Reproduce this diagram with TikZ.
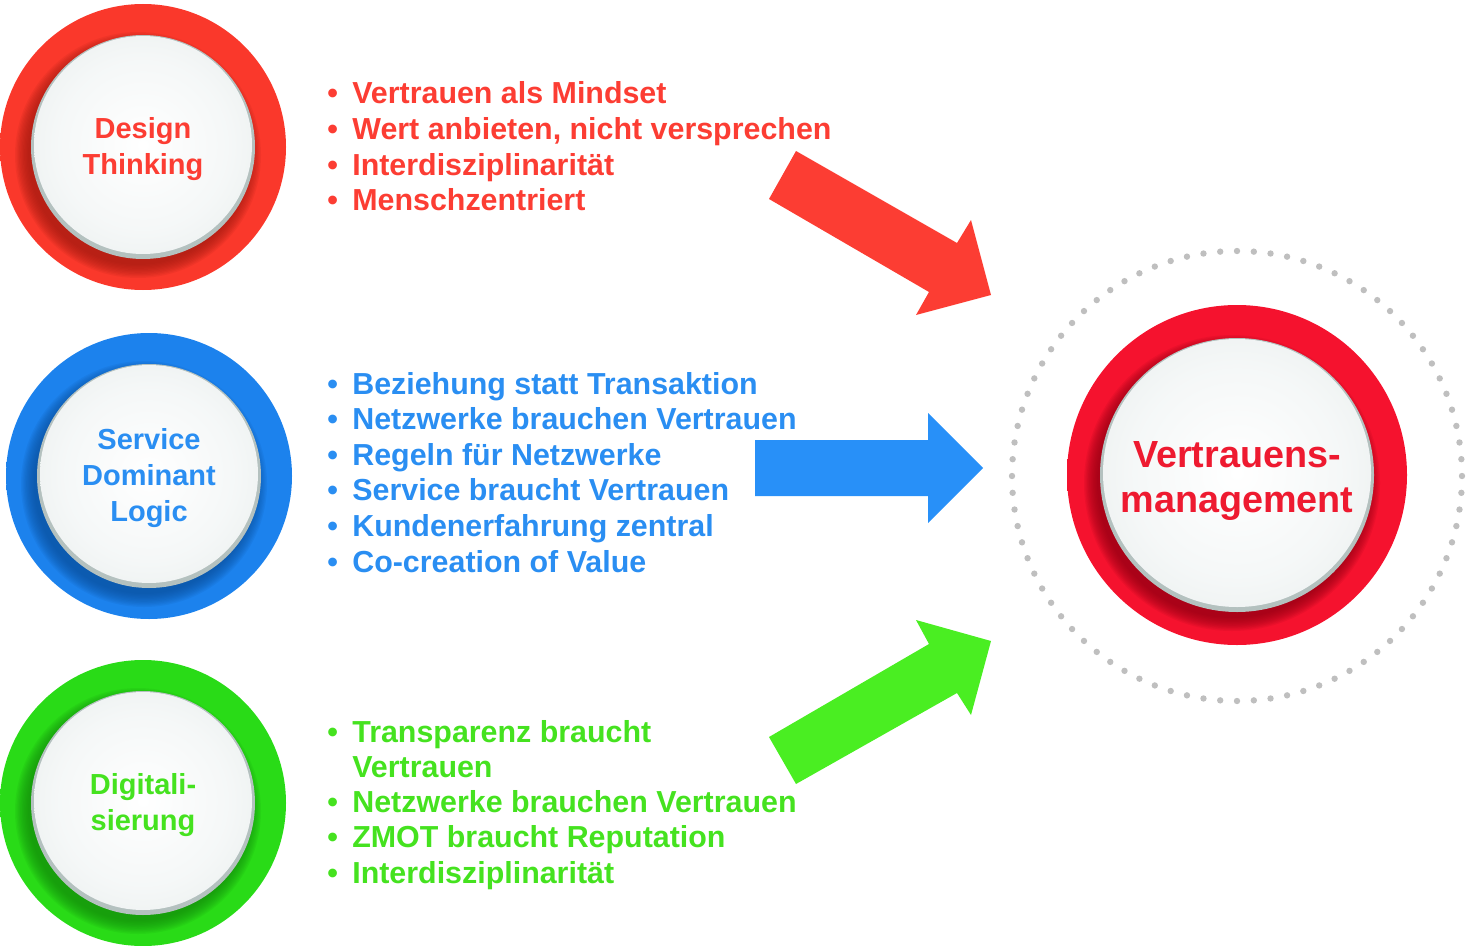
\documentclass[tikz,border=0pt]{standalone}
\usepackage{fontspec}
\setmainfont{Liberation Sans}
\usetikzlibrary{calc}

% colours
\definecolor{redtext}{HTML}{FC3D33}
\definecolor{bluetext}{HTML}{2A8EF2}
\definecolor{greentext}{HTML}{45E21F}
\definecolor{coretext}{HTML}{EE1A30}
\definecolor{redarrow}{HTML}{FC3D33}
\definecolor{bluearrow}{HTML}{2890F8}
\definecolor{greenarrow}{HTML}{4AEE22}
\definecolor{redshadow}{HTML}{A01A10}
\definecolor{blueshadow}{HTML}{0A4E9A}
\definecolor{greenshadow}{HTML}{138A0C}
\definecolor{coreshadow}{HTML}{8E0012}
\definecolor{rimgray}{HTML}{B4C1BF}
\definecolor{dotgray}{HTML}{BFBFBF}

% ring and button shadings
\pgfdeclareradialshading{ringred}{\pgfpoint{0bp}{0bp}}{rgb(0bp)=(0.98,0.22,0.17); rgb(38bp)=(0.98,0.22,0.17); rgb(45bp)=(1,0.26,0.18); rgb(50bp)=(1,0.38,0.16)}
\pgfdeclareradialshading{ringblue}{\pgfpoint{0bp}{0bp}}{rgb(0bp)=(0.11,0.51,0.93); rgb(38bp)=(0.11,0.51,0.93); rgb(50bp)=(0.23,0.69,0.97)}
\pgfdeclareradialshading{ringgreen}{\pgfpoint{0bp}{0bp}}{rgb(0bp)=(0.16,0.86,0.09); rgb(38bp)=(0.16,0.86,0.09); rgb(50bp)=(0.22,0.92,0.13)}
\pgfdeclareradialshading{ringcore}{\pgfpoint{0bp}{0bp}}{rgb(0bp)=(0.96,0.07,0.18); rgb(40bp)=(0.96,0.07,0.18); rgb(50bp)=(0.98,0.09,0.19)}
\pgfdeclareradialshading{buttonface}{\pgfpoint{0bp}{0bp}}{rgb(0bp)=(1,1,1); rgb(20bp)=(0.96,0.97,0.97); rgb(50bp)=(0.86,0.89,0.88)}

\tikzset{
  listitem/.style={anchor=base west, inner sep=0pt, font=\fontsize{17.3}{20}\selectfont\bfseries},
  btnlabel/.style={align=center, inner sep=0pt, font=\fontsize{16.5}{20.4}\selectfont\bfseries},
  corelabel/.style={align=center, inner sep=0pt, yshift=-2.3pt, font=\fontsize{21.5}{25.5}\selectfont\bfseries},
}

% #1 name, #2 centre, #3 ring radius, #4 button radius, #5 colour set, #6 label style, #7 label
\newcommand{\ringbutton}[7]{%
  \coordinate (#1-c) at #2;
  \shade[shading=ring#5] (#1-c) circle [radius=#3];
  \foreach \s in {0,...,10}
    \fill[#5shadow, opacity=0.1] ([shift={(-5,8)}]#1-c) circle [radius=#4-2+1.3*\s];
  \fill[rimgray] (#1-c) circle [radius=#4];
  \shade[shading=buttonface] ([shift={(0,-2)}]#1-c) circle [radius=#4-3];
  \node[#6, text=#5text] (#1) at ([shift={(0,2)}]#1-c) {#7};
}

\begin{document}
\begin{tikzpicture}[x=0.02cm, y=-0.02cm]
    \useasboundingbox (0,0) rectangle (1467,946);

    % Buttons on the left
    \ringbutton{dt}{(143,147)}{143}{112}{red}{btnlabel}{Design\\Thinking}
    \ringbutton{sdl}{(149,476)}{143}{112}{blue}{btnlabel}{Service\\Dominant\\Logic}
    \ringbutton{dig}{(143,803)}{143}{112}{green}{btnlabel}{Digitali-\\sierung}

    % Dotted halo and core button
    \foreach \k in {1,...,84}
        \fill[dotgray, shift={(1237,476)}] (360/84*\k:225) circle [radius=3.2];
    \ringbutton{vm}{(1237,475)}{170}{137}{core}{corelabel}{Vertrauens-\\management}

    % Design Thinking list
    \foreach \txt [count=\i] in {Vertrauen als Mindset, {Wert anbieten, nicht versprechen}, Interdisziplinarität, Menschzentriert} {
        \node[listitem, text=redtext] (dtb\i) at (327, 68.5+35.5*\i) {\textbullet};
        \node[listitem, text=redtext] (dti\i) at (352, 68.5+35.5*\i) {\txt};
    }

    % Service Dominant Logic list
    \foreach \txt [count=\i] in {Beziehung statt Transaktion, Netzwerke brauchen Vertrauen, Regeln für Netzwerke, Service braucht Vertrauen, Kundenerfahrung zentral, Co-creation of Value} {
        \node[listitem, text=bluetext] (sdlb\i) at (327, 358.4+35.6*\i) {\textbullet};
        \node[listitem, text=bluetext] (sdli\i) at (352, 358.4+35.6*\i) {\txt};
    }

    % Digitalisierung list
    \foreach \txt [count=\i] in {Transparenz braucht, Vertrauen, Netzwerke brauchen Vertrauen, ZMOT braucht Reputation, Interdisziplinarität}
        \node[listitem, text=greentext] (digi\i) at (352, 706.75+35.25*\i) {\txt};
    \foreach \i in {1,3,4,5}
        \node[listitem, text=greentext] (digb\i) at (327, 706.75+35.25*\i) {\textbullet};

    % Block arrows
    \fill[redarrow] (796,151) -- (957,243) -- (971,220) -- (991,295) -- (916,315) -- (929,292) -- (769,199) -- cycle;
    \fill[bluearrow] (755,440) -- (928,440) -- (928,413) -- (983,468) -- (928,523) -- (928,496) -- (755,496) -- cycle;
    \fill[greenarrow] (769,737) -- (929,644) -- (916,620) -- (991,641) -- (971,715) -- (957,693) -- (796,784) -- cycle;

\end{tikzpicture}
\end{document}
